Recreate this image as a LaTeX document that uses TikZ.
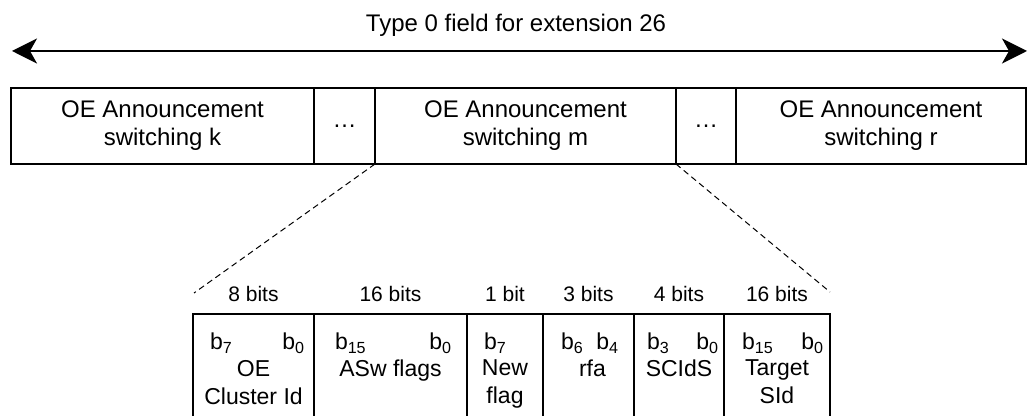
\documentclass[tikz,border=0pt]{standalone}
\usepackage{fontspec}
\setmainfont{Liberation Sans}
\usetikzlibrary{positioning, arrows.meta, calc}
\tikzset{
  seg/.style={rectangle, minimum height=38pt, inner sep=0pt, outer sep=0pt, align=center, draw=black, line width=0.75pt, font=\fontsize{12}{14}\selectfont},
  field/.style={rectangle, minimum height=51pt, inner sep=0pt, outer sep=0pt},
  bitsize/.style={inner sep=0pt, outer sep=0pt, font=\fontsize{10.5}{12}\selectfont},
  fname/.style={inner sep=0pt, outer sep=0pt, align=center, font=\fontsize{11.5}{14}\selectfont},
  bidx/.style={inner sep=0pt, outer sep=0pt, font=\fontsize{11.5}{13}\selectfont},
  spanarrow/.style={line width=1pt, {Stealth[length=12.5pt, width=12.5pt, inset=3.5pt]}-{Stealth[length=12.5pt, width=12.5pt, inset=3.5pt]}},
  zoomline/.style={line width=0.5pt, dash pattern=on 3pt off 2pt},
  frame/.style={line width=0.75pt}
}
\begin{document}
\begin{tikzpicture}[x=0.5pt, y=-0.5pt, node distance=0pt]
        \useasboundingbox (0,0) rectangle (1029,416);

        % === TITLE AND SPAN ARROW ===
        \node (title) [inner sep=0pt, anchor=base, font=\fontsize{12}{14}\selectfont] at (516,32) {Type 0 field for extension 26};
        \coordinate (aL) at (12,51);
        \coordinate (aR) at (1027,51);
        \draw [spanarrow] (aL) -- (aR);

        % === TOP ROW: announcement switchings ===
        \node (segk) [seg, minimum width=151.5pt, anchor=north west] at (11,88) {OE Announcement\\switching k};
        \node (dots1) [seg, minimum width=30.5pt, right=of segk] {…};
        \node (segm) [seg, minimum width=150.5pt, right=of dots1] {OE Announcement\\switching m};
        \node (dots2) [seg, minimum width=30pt, right=of segm] {…};
        \node (segr) [seg, minimum width=145pt, right=of dots2] {OE Announcement\\switching r};

        % === BOTTOM ROW: fields of switching m ===
        \node (f1) [field, minimum width=60.5pt, anchor=north west] at (193,314) {};
        \node (f2) [field, minimum width=76.5pt, right=of f1] {};
        \node (f3) [field, minimum width=38pt, right=of f2] {};
        \node (f4) [field, minimum width=45.5pt, right=of f3] {};
        \node (f5) [field, minimum width=45pt, right=of f4] {};
        \node (f6) [field, minimum width=53pt, right=of f5] {};

        \draw [frame] (f1.south west) -- (f1.north west) -- (f6.north east) -- (f6.south east);
        \foreach \c in {f1,f2,f3,f4,f5}
            \draw [frame] (\c.north east) -- (\c.south east);

        % bit sizes
        \node (s1) [bitsize, above=6pt of f1] {8 bits};
        \node (s2) [bitsize, above=6pt of f2] {16 bits};
        \node (s3) [bitsize, above=6pt of f3] {1 bit};
        \node (s4) [bitsize, above=6pt of f4] {3 bits};
        \node (s5) [bitsize, above=6pt of f5] {4 bits};
        \node (s6) [bitsize, above=6pt of f6] {16 bits};

        % bit indices
        \node (h1) [bidx, below right=9.5pt and 8.5pt of f1.north west] {b\textsubscript{7}};
        \node (l1) [bidx, below left=9.5pt and 4.5pt of f1.north east] {b\textsubscript{0}};
        \node (h2) [bidx, below right=9.5pt and 10.5pt of f2.north west] {b\textsubscript{15}};
        \node (l2) [bidx, below left=9.5pt and 7.5pt of f2.north east] {b\textsubscript{0}};
        \node (h3) [bidx, below right=9.5pt and 8.5pt of f3.north west] {b\textsubscript{7}};
        \node (h4) [bidx, below right=9.5pt and 9pt of f4.north west] {b\textsubscript{6}};
        \node (l4) [bidx, below left=9.5pt and 7.5pt of f4.north east] {b\textsubscript{4}};
        \node (h5) [bidx, below right=9.5pt and 6.5pt of f5.north west] {b\textsubscript{3}};
        \node (l5) [bidx, below left=9.5pt and 2.5pt of f5.north east] {b\textsubscript{0}};
        \node (h6) [bidx, below right=9.5pt and 9pt of f6.north west] {b\textsubscript{15}};
        \node (l6) [bidx, below left=9.5pt and 3pt of f6.north east] {b\textsubscript{0}};

        % field names
        \node (n1) [fname, below=23pt of f1.north] {OE\\Cluster Id};
        \node (n2) [fname, below=23pt of f2.north] {ASw flags};
        \node (n3) [fname, below=23pt of f3.north] {New\\flag};
        \node (n4) [fname, below=23pt of f4.north, xshift=2pt] {rfa};
        \node (n5) [fname, below=23pt of f5.north] {SCIdS};
        \node (n6) [fname, below=23pt of f6.north] {Target\\SId};

        % === ZOOM LINES ===
        \coordinate (zl) at ($(f1.north west)+(1,-21)$);
        \coordinate (zr) at ($(f6.north east)+(0,-22)$);
        \draw [zoomline] (segm.south west) -- (zl);
        \draw [zoomline] (segm.south east) -- (zr);

    \end{tikzpicture}
\end{document}
